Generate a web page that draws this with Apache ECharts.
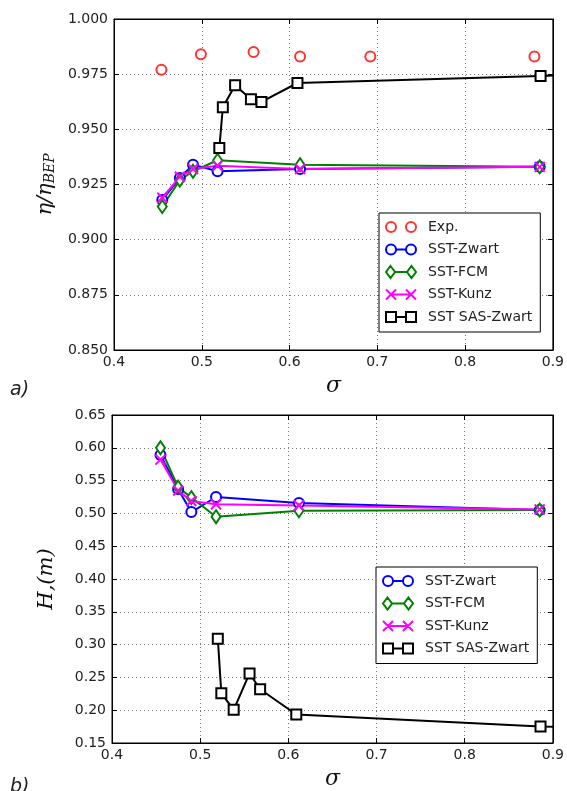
<!DOCTYPE html>
<html>
<head>
<meta charset="utf-8">
<script src="https://cdn.jsdelivr.net/npm/echarts/dist/echarts.min.js"></script>
<style>
  html, body { margin: 0; padding: 0; background: #fff; }
  #chart { width: 567px; height: 791px; }
</style>
</head>
<body>
<div id="chart"></div>
<script>
// data
const sigmaExp = [0.454, 0.499, 0.559, 0.612, 0.692, 0.879];
const effExp = [0.977, 0.984, 0.985, 0.983, 0.983, 0.983];

const sigmaSST = [0.455, 0.475, 0.490, 0.518, 0.612, 0.885];
const effZwart = [0.918, 0.928, 0.934, 0.931, 0.932, 0.933];
const effFCM = [0.915, 0.927, 0.931, 0.936, 0.934, 0.933];
const effKunz = [0.919, 0.9285, 0.932, 0.9335, 0.932, 0.933];

const headZwart = [0.589, 0.537, 0.502, 0.525, 0.516, 0.505];
const headFCM = [0.600, 0.540, 0.524, 0.495, 0.504, 0.505];
const headKunz = [0.582, 0.535, 0.519, 0.514, 0.512, 0.506];

const sigmaSAS = [0.520, 0.524, 0.538, 0.556, 0.568, 0.609, 0.886, 0.95];
const effSAS = [0.9415, 0.960, 0.970, 0.9636, 0.9624, 0.971, 0.9742, 0.9748];
const headSAS = [0.309, 0.226, 0.2005, 0.256, 0.232, 0.1935, 0.175, 0.174];

const FONT = 'DejaVu Sans';
const SERIF = 'DejaVu Serif';

// series look
const styles = {
  'Exp.': { color: '#ff0000', symbol: 'circle', size: 10, line: false,
    icon: 'path://M0,5a5,5 0 1,0 10,0a5,5 0 1,0 -10,0ZM20,5a5,5 0 1,0 10,0a5,5 0 1,0 -10,0Z' },
  'SST-Zwart': { color: '#0000ff', symbol: 'circle', size: 10, line: true,
    icon: 'path://M0,5a5,5 0 1,0 10,0a5,5 0 1,0 -10,0ZM10,5L20,5M20,5a5,5 0 1,0 10,0a5,5 0 1,0 -10,0Z' },
  'SST-FCM': { color: '#008000', symbol: 'diamond', size: [9, 13], line: true,
    icon: 'path://M4.5,0L9,6L4.5,12L0,6ZM9,6L21,6M25.5,0L30,6L25.5,12L21,6Z' },
  'SST-Kunz': { color: '#ff00ff', symbol: 'path://M0,0L10,10M0,10L10,0', size: 10, line: true,
    icon: 'path://M0,0L10,10M0,10L10,0M5,5L25,5M20,0L30,10M20,10L30,0' },
  'SST SAS-Zwart': { color: '#000000', symbol: 'rect', size: 10, line: true,
    icon: 'path://M0,0H10V10H0ZM10,5H20M20,0H30V10H20Z' }
};

function pairs(xs, ys) {
  let out = [];
  for (var i = 0; i < ys.length; i++) {
    out.push([xs[i], ys[i]]);
  }
  return out;
}

function makeSeries(name, xs, ys, idx) {
  let s = styles[name];
  return {
    name: name,
    type: s.line ? 'line' : 'scatter',
    xAxisIndex: idx,
    yAxisIndex: idx,
    data: pairs(xs, ys),
    symbol: s.symbol,
    symbolSize: s.size,
    showAllSymbol: true,
    clip: true,
    itemStyle: { color: '#ffffff', borderColor: s.color, borderWidth: 2 },
    lineStyle: { color: s.color, width: 2 },
    z: 3
  };
}

function makeLegend(names, left, top) {
  return {
    orient: 'vertical',
    left: left,
    top: top,
    padding: [7, 8, 8, 6],
    itemGap: 8.5,
    itemWidth: 30,
    itemHeight: 12,
    borderColor: '#000',
    borderWidth: 1,
    backgroundColor: '#fff',
    z: 10,
    textStyle: { fontFamily: FONT, fontSize: 14, color: '#222', padding: [0, 0, 0, 7] },
    data: names.map(function (n) {
      return {
        name: n,
        icon: styles[n].icon,
        itemStyle: { color: '#ffffff', borderColor: styles[n].color, borderWidth: 2 }
      };
    })
  };
}

function xAxisOf(idx) {
  return {
    type: 'value',
    gridIndex: idx,
    min: 0.4,
    max: 0.9,
    interval: 0.1,
    name: 'σ',
    nameLocation: 'middle',
    nameGap: 25,
    nameTextStyle: { fontFamily: SERIF, fontStyle: 'italic', fontSize: 22, color: '#111' },
    axisLine: { onZero: false, lineStyle: { color: '#000', width: 1 } },
    axisTick: { inside: true, length: 5, lineStyle: { color: '#000' } },
    axisLabel: {
      margin: 5, fontFamily: FONT, fontSize: 14, color: '#222',
      formatter: function (v) { return v.toFixed(1); }
    },
    splitLine: { show: true, lineStyle: { color: '#777', type: [1, 3], width: 1 } }
  };
}

function yAxisOf(idx, min, max, step, digits, name, gap) {
  return {
    type: 'value',
    gridIndex: idx,
    min: min,
    max: max,
    interval: step,
    name: name,
    nameLocation: 'middle',
    nameRotate: 90,
    nameGap: gap,
    nameTextStyle: {
      fontFamily: SERIF, fontStyle: 'italic', fontSize: 21, color: '#111',
      rich: {
        a: { fontFamily: SERIF, fontStyle: 'italic', fontSize: 21, color: '#111' },
        s: { fontFamily: SERIF, fontStyle: 'italic', fontSize: 14, color: '#111', padding: [9, 0, 0, 0] }
      }
    },
    axisLine: { show: true, lineStyle: { color: '#000', width: 1 } },
    axisTick: { inside: true, length: 5, lineStyle: { color: '#000' } },
    axisLabel: {
      margin: 6, fontFamily: FONT, fontSize: 14, color: '#222',
      formatter: function (v) { return v.toFixed(digits); }
    },
    splitLine: { show: true, lineStyle: { color: '#777', type: [1, 3], width: 1 } }
  };
}

// ticks on the top / right sides, no labels
function mirrorAxis(base, position) {
  return Object.assign({}, base, {
    position: position,
    name: '',
    axisLabel: { show: false },
    splitLine: { show: false }
  });
}

function display() {
  let myChart = echarts.init(document.getElementById('chart'), null, { renderer: 'canvas' });

  let x0 = xAxisOf(0);
  let x1 = xAxisOf(1);
  let y0 = yAxisOf(0, 0.85, 1.0, 0.025, 3, '{a|η/η}{s|BEP}', 57);
  let y1 = yAxisOf(1, 0.15, 0.65, 0.05, 2, '{a|H,(m)}', 55);

  let option = {
    animation: false,
    backgroundColor: '#fff',
    grid: [
      { left: 114, right: 11, top: 19, height: 331, show: true, borderColor: '#000', borderWidth: 1 },
      { left: 112, right: 14, top: 415, height: 330, show: true, borderColor: '#000', borderWidth: 1 }
    ],
    xAxis: [x0, x1, mirrorAxis(x0, 'top'), mirrorAxis(x1, 'top')],
    yAxis: [y0, y1, mirrorAxis(y0, 'right'), mirrorAxis(y1, 'right')],
    legend: [
      makeLegend(['Exp.', 'SST-Zwart', 'SST-FCM', 'SST-Kunz', 'SST SAS-Zwart'], 379, 213),
      makeLegend(['SST-Zwart', 'SST-FCM', 'SST-Kunz', 'SST SAS-Zwart'], 376, 567)
    ],
    series: [
      makeSeries('Exp.', sigmaExp, effExp, 0),
      makeSeries('SST-Zwart', sigmaSST, effZwart, 0),
      makeSeries('SST-FCM', sigmaSST, effFCM, 0),
      makeSeries('SST-Kunz', sigmaSST, effKunz, 0),
      makeSeries('SST SAS-Zwart', sigmaSAS, effSAS, 0),
      makeSeries('SST-Zwart', sigmaSST, headZwart, 1),
      makeSeries('SST-FCM', sigmaSST, headFCM, 1),
      makeSeries('SST-Kunz', sigmaSST, headKunz, 1),
      makeSeries('SST SAS-Zwart', sigmaSAS, headSAS, 1)
    ],
    graphic: [
      { type: 'text', left: 10, top: 381, style: { text: 'a)', font: 'italic 19px "DejaVu Sans"', fill: '#222' } },
      { type: 'text', left: 10, top: 778, style: { text: 'b)', font: 'italic 19px "DejaVu Sans"', fill: '#222' } }
    ]
  };

  myChart.setOption(option);
  return myChart;
}

display();
</script>
</body>
</html>
